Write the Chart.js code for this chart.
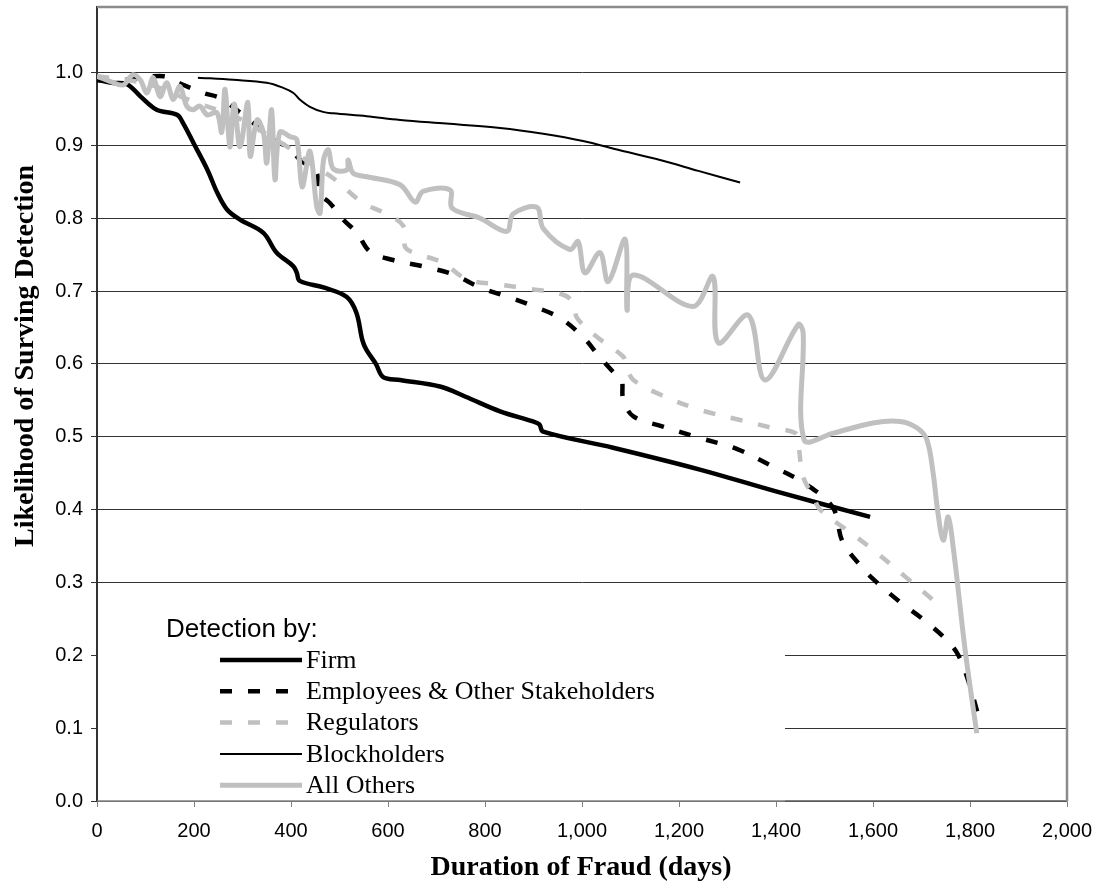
<!DOCTYPE html>
<html lang="en">
<head>
  <meta charset="UTF-8" />
  <title>Likelihood of Surviving Detection</title>
  <script src="https://cdn.jsdelivr.net/npm/chart.js"></script>
  <style>
    body { margin: 0; background: #ffffff; }
    #wrap { width: 1101px; height: 896px; }
  </style>
</head>
<body>
<div id="wrap"><canvas id="survChart" width="1101" height="896"></canvas></div>

<script>
// Data: days and survival likelihood per detector
const firmDays = [0, 30, 62, 90, 123, 165, 178, 200, 228, 248, 268, 295, 343, 370, 405, 412, 418, 467, 515, 535, 547, 555, 575, 590, 625, 707, 760, 831, 899, 912, 920, 1064, 1243, 1400, 1594];
const firmSurv = [0.99, 0.986, 0.984, 0.967, 0.949, 0.942, 0.93, 0.902, 0.866, 0.835, 0.812, 0.798, 0.78, 0.753, 0.734, 0.725, 0.714, 0.705, 0.692, 0.67, 0.633, 0.62, 0.60, 0.582, 0.578, 0.569, 0.555, 0.535, 0.521, 0.517, 0.507, 0.485, 0.455, 0.425, 0.39];

const emplDays = [0, 60, 137, 175, 219, 254, 295, 322, 350, 392, 419, 453, 456, 480, 508, 536, 563, 608, 672, 734, 790, 852, 893, 955, 1005, 1037, 1070, 1082, 1085, 1106, 1167, 1240, 1320, 1394, 1464, 1518, 1538, 1588, 1608, 1656, 1704, 1752, 1776, 1796, 1817];
const emplSurv = [0.99, 0.99, 0.995, 0.984, 0.972, 0.965, 0.945, 0.931, 0.912, 0.898, 0.88, 0.862, 0.835, 0.821, 0.798, 0.78, 0.754, 0.743, 0.734, 0.723, 0.705, 0.691, 0.681, 0.663, 0.635, 0.609, 0.585, 0.578, 0.551, 0.528, 0.514, 0.499, 0.483, 0.459, 0.434, 0.402, 0.355, 0.313, 0.30, 0.273, 0.249, 0.221, 0.20, 0.166, 0.118];

const regDays = [0, 100, 200, 300, 350, 400, 440, 487, 548, 590, 631, 635, 652, 713, 763, 831, 893, 961, 981, 990, 1031, 1085, 1092, 1106, 1161, 1243, 1326, 1394, 1440, 1446, 1456, 1477, 1491, 1546, 1600, 1670, 1722];
const regSurv = [0.995, 0.985, 0.96, 0.935, 0.915, 0.895, 0.875, 0.855, 0.821, 0.808, 0.79, 0.761, 0.753, 0.739, 0.716, 0.709, 0.703, 0.695, 0.685, 0.663, 0.637, 0.61, 0.596, 0.578, 0.558, 0.537, 0.523, 0.512, 0.505, 0.49, 0.445, 0.418, 0.40, 0.372, 0.345, 0.306, 0.277];

const blockDays = [208, 281, 350, 384, 405, 418, 439, 466, 487, 556, 625, 720, 831, 920, 1002, 1080, 1161, 1240, 1326];
const blockSurv = [0.993, 0.99, 0.986, 0.979, 0.972, 0.963, 0.953, 0.946, 0.944, 0.94, 0.935, 0.93, 0.924, 0.916, 0.906, 0.893, 0.88, 0.865, 0.849];

const otherDays = [0, 27, 54, 74, 89, 103, 116, 130, 144, 157, 171, 185, 198, 212, 227, 247, 257, 264, 274, 283, 295, 311, 316, 330, 343, 350, 360, 367, 377, 398, 412, 423, 439, 453, 460, 467, 477, 487, 515, 518, 528, 557, 625, 656, 672, 728, 732, 790, 845, 858, 907, 920, 975, 992, 1006, 1037, 1054, 1089, 1093, 1106, 1229, 1270, 1281, 1343, 1377, 1446, 1456, 1458, 1518, 1600, 1656, 1691, 1711, 1724, 1734, 1745, 1755, 1766, 1790, 1814];
const otherSurv = [0.995, 0.988, 0.983, 0.997, 0.99, 0.972, 0.993, 0.967, 0.986, 0.963, 0.981, 0.954, 0.949, 0.954, 0.942, 0.945, 0.918, 0.977, 0.898, 0.957, 0.898, 0.959, 0.885, 0.935, 0.918, 0.876, 0.949, 0.853, 0.918, 0.912, 0.908, 0.843, 0.892, 0.816, 0.807, 0.88, 0.894, 0.868, 0.866, 0.88, 0.862, 0.857, 0.846, 0.822, 0.837, 0.839, 0.814, 0.80, 0.782, 0.806, 0.815, 0.786, 0.757, 0.768, 0.725, 0.753, 0.713, 0.771, 0.674, 0.722, 0.679, 0.72, 0.629, 0.667, 0.578, 0.654, 0.643, 0.496, 0.505, 0.519, 0.521, 0.512, 0.496, 0.45, 0.395, 0.358, 0.39, 0.345, 0.207, 0.093];

const seriesNames = ['Firm', 'Employees & Other Stakeholders', 'Regulators', 'Blockholders', 'All Others'];
const xTickStep = 200;
const yTickStep = 0.1;

const GREY = '#c0c0c0';
const DASH = [12, 16];

function pts(xs, ys) {
  return xs.map((x, i) => ({ x: x, y: ys[i] }));
}

// legend box, frame and axis titles
const extras = {
  id: 'extras',
  beforeDatasetsDraw(chart) {
    const ctx = chart.ctx;
    const a = chart.chartArea;
    ctx.save();
    // legend background hides the grid underneath
    ctx.fillStyle = '#ffffff';
    ctx.fillRect(a.left + 1, 596, 785 - a.left - 1, a.bottom - 596);
    ctx.strokeStyle = '#808080';
    ctx.lineWidth = 1.5;
    ctx.beginPath();
    ctx.moveTo(a.left, a.bottom);
    ctx.lineTo(785, a.bottom);
    ctx.stroke();
    // top and right frame
    ctx.strokeStyle = '#8c8c8c';
    ctx.lineWidth = 2.5;
    ctx.beginPath();
    ctx.moveTo(a.left, a.top);
    ctx.lineTo(a.right, a.top);
    ctx.lineTo(a.right, a.bottom);
    ctx.stroke();

    // legend
    ctx.fillStyle = '#000';
    ctx.font = '26px "Liberation Sans", Arial, sans-serif';
    ctx.textAlign = 'left';
    ctx.textBaseline = 'alphabetic';
    ctx.fillText('Detection by:', 166, 637);
    ctx.font = '26px "Liberation Serif", "Times New Roman", serif';
    ctx.textBaseline = 'middle';
    chart.data.datasets.forEach((ds, i) => {
      const y = 660 + i * 31.3;
      ctx.strokeStyle = ds.borderColor;
      ctx.lineWidth = ds.borderWidth;
      ctx.setLineDash(ds.borderDash || []);
      ctx.beginPath();
      ctx.moveTo(220, y);
      ctx.lineTo(302, y);
      ctx.stroke();
      ctx.setLineDash([]);
      ctx.fillText(ds.label, 306, y + 1);
    });

    // axis titles
    ctx.font = 'bold 28px "Liberation Serif", "Times New Roman", serif';
    ctx.textAlign = 'center';
    ctx.textBaseline = 'middle';
    ctx.fillText('Duration of Fraud (days)', 581, 868);
    ctx.translate(26, 356);
    ctx.rotate(-Math.PI / 2);
    ctx.fillText('Likelihood of Surving Detection', 0, 0);
    ctx.restore();
  }
};

new Chart(document.getElementById('survChart'), {
  type: 'line',
  data: {
    datasets: [
      { label: seriesNames[0], data: pts(firmDays, firmSurv), borderColor: '#000000', borderWidth: 4.5, order: 3 },
      { label: seriesNames[1], data: pts(emplDays, emplSurv), borderColor: '#000000', borderWidth: 4.5, borderDash: DASH, order: 4 },
      { label: seriesNames[2], data: pts(regDays, regSurv), borderColor: GREY, borderWidth: 4.5, borderDash: DASH, order: 2 },
      { label: seriesNames[3], data: pts(blockDays, blockSurv), borderColor: '#000000', borderWidth: 2, order: 5 },
      { label: seriesNames[4], data: pts(otherDays, otherSurv), borderColor: GREY, borderWidth: 5, order: 1 }
    ]
  },
  options: {
    responsive: false,
    animation: false,
    devicePixelRatio: 1,
    layout: { padding: { top: 7, right: 34, left: 0, bottom: 0 } },
    elements: {
      point: { radius: 0 },
      line: { tension: 0.35, fill: false, borderCapStyle: 'butt' }
    },
    plugins: {
      legend: { display: false },
      tooltip: { enabled: false }
    },
    scales: {
      x: {
        type: 'linear',
        min: 0,
        max: 2000,
        afterFit: s => { s.height = 95; s.paddingLeft = 0; s.paddingRight = 0; },
        ticks: {
          stepSize: xTickStep,
          padding: 12,
          color: '#000',
          font: { family: '"Liberation Sans", Arial, sans-serif', size: 20 },
          maxRotation: 0
        },
        grid: { drawOnChartArea: false, drawTicks: true, tickLength: 6, color: '#808080' },
        border: { color: '#808080', width: 1.5 }
      },
      y: {
        min: 0,
        max: 1.09,
        afterFit: s => { s.width = 97; s.paddingTop = 0; s.paddingBottom = 0; },
        ticks: {
          stepSize: yTickStep,
          includeBounds: false,
          padding: 8,
          color: '#000',
          font: { family: '"Liberation Sans", Arial, sans-serif', size: 20 },
          callback: v => v.toFixed(1)
        },
        grid: { color: '#333333', lineWidth: 1, tickLength: 6, tickColor: '#333333' },
        border: { color: '#333333', width: 2 }
      }
    }
  },
  plugins: [extras]
});
</script>
</body>
</html>
